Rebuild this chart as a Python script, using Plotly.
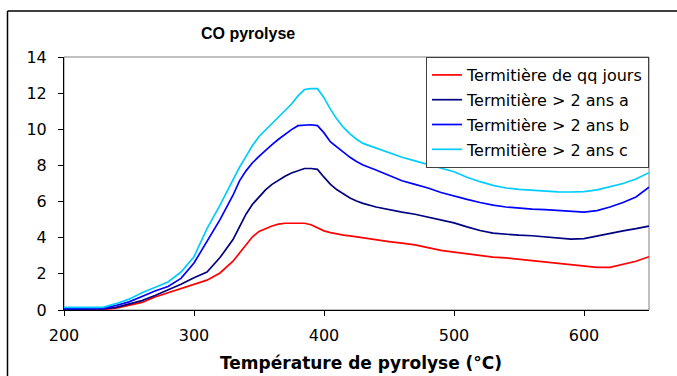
import plotly.graph_objects as go

temperature = [200, 210, 220, 230, 240, 250, 260, 270, 280, 290, 300, 310, 320, 330,
               335, 340, 345, 350, 355, 360, 365, 370, 375, 380, 385, 390, 395, 400,
               405, 410, 415, 420, 425,
               430, 440, 450, 460, 470, 480, 490, 500, 510, 520, 530, 540, 550, 560,
               570, 580, 590, 600, 610, 620, 630, 640, 650]

qq_jours = [0.02, 0.02, 0.02, 0.03, 0.1, 0.27, 0.42, 0.72, 0.95, 1.2, 1.42, 1.65, 2.05, 2.7,
            3.15, 3.6, 4.05, 4.35, 4.52, 4.65, 4.75, 4.8, 4.8, 4.8, 4.8, 4.72, 4.55, 4.38,
            4.28, 4.2, 4.14, 4.1, 4.04,
            3.98, 3.88, 3.78, 3.7, 3.6, 3.45, 3.3, 3.2, 3.1, 3.0, 2.93, 2.88, 2.8, 2.75,
            2.68, 2.58, 2.48, 2.4, 2.36, 2.36, 2.55, 2.7, 2.95]

ans_a = [0.05, 0.05, 0.05, 0.06, 0.15, 0.32, 0.52, 0.8, 1.1, 1.42, 1.78, 2.1, 2.9, 3.9,
         4.6, 5.3, 5.85, 6.25, 6.65, 6.95, 7.2, 7.4, 7.58, 7.72, 7.83, 7.83, 7.78, 7.35,
         6.95, 6.65, 6.4, 6.2, 6.03,
         5.9, 5.7, 5.55, 5.42, 5.3, 5.15, 5.0, 4.82, 4.6, 4.4, 4.25, 4.18, 4.14, 4.11,
         4.05, 3.98, 3.92, 3.95, 4.1, 4.25, 4.38, 4.5, 4.64]

ans_b = [0.08, 0.08, 0.08, 0.09, 0.25, 0.45, 0.75, 1.05, 1.3, 1.75, 2.6, 3.8, 5.0, 6.35,
         7.15, 7.7, 8.15, 8.5, 8.85, 9.15, 9.45, 9.72, 9.98, 10.2, 10.24, 10.25, 10.2, 9.8,
         9.3, 9.0, 8.7, 8.45, 8.22,
         8.02, 7.75, 7.45, 7.15, 6.95, 6.75, 6.5, 6.3, 6.12, 5.95, 5.8, 5.7, 5.62, 5.58,
         5.55, 5.5, 5.47, 5.42, 5.5, 5.7, 5.95, 6.25, 6.8]

ans_c = [0.15, 0.15, 0.15, 0.15, 0.35, 0.6, 0.95, 1.25, 1.55, 2.1, 2.95, 4.5, 5.8, 7.2,
         7.9, 8.5, 9.1, 9.6, 9.95, 10.3, 10.65, 11.0, 11.4, 11.85, 12.2, 12.25, 12.25, 11.75,
         11.1, 10.55, 10.1, 9.75, 9.45,
         9.22, 8.95, 8.7, 8.45, 8.25, 8.05, 7.85, 7.65, 7.35, 7.1, 6.9, 6.75, 6.68, 6.63,
         6.57, 6.54, 6.53, 6.55, 6.65, 6.82, 7.0, 7.25, 7.6]

series_names = ["Termitière de qq jours", "Termitière > 2 ans a",
                "Termitière > 2 ans b", "Termitière > 2 ans c"]
series_values = [qq_jours, ans_a, ans_b, ans_c]
series_colors = ["#FF0000", "#000080", "#0000FF", "#00CCFF"]

x_ticks = [200, 300, 400, 500, 600]
y_ticks = [0, 2, 4, 6, 8, 10, 12, 14]

fig = go.Figure()
for i, (name, vals, col) in enumerate(zip(series_names, series_values, series_colors)):
    fig.add_trace(go.Scatter(x=temperature, y=vals, mode="lines", name=name,
                             legendgroup=f"g{i}",
                             line=dict(color=col, width=1.7)))

W, H = 677, 376
L, T = 64, 57
R = W - 649
B = H - 310
pw, ph = W - L - R, H - T - B

def px_to_paper(x, y):
    return (x - L) / pw, (H - B - y) / ph

bx0, by0 = px_to_paper(7.5, 11)
bx1, by1 = px_to_paper(720, 420)

tx, ty = px_to_paper(248, 33)
ax_x, ax_y = px_to_paper(361, 363)

fig.update_layout(
    width=W, height=H,
    margin=dict(l=L, r=R, t=T, b=B),
    paper_bgcolor="white", plot_bgcolor="white",
    font=dict(family="DejaVu Sans", size=15, color="black"),
    showlegend=True,
    legend=dict(x=1, y=1, xanchor="right", yanchor="top",
                bgcolor="white", bordercolor="#404040", borderwidth=1,
                font=dict(family="DejaVu Sans", size=16, color="black"),
                tracegroupgap=1, traceorder="grouped"),
    shapes=[
        dict(type="line", xref="paper", yref="paper", x0=bx0, y0=by0, x1=bx0, y1=by1,
             line=dict(color="black", width=1.5), layer="below"),
        dict(type="line", xref="paper", yref="paper", x0=bx0, y0=by0, x1=bx1, y1=by0,
             line=dict(color="black", width=1.5), layer="below"),
        dict(type="rect", xref="paper", yref="paper", x0=0, y0=0, x1=1, y1=1,
             line=dict(color="#808080", width=1), layer="below"),
    ],
    annotations=[
        dict(text="<b>CO pyrolyse</b>", xref="paper", yref="paper", x=tx, y=ty,
             xanchor="center", yanchor="middle", showarrow=False,
             font=dict(family="Liberation Sans", size=16, color="black")),
        dict(text="<b>Température de pyrolyse (°C)</b>", xref="paper", yref="paper",
             x=ax_x, y=ax_y, xanchor="center", yanchor="middle", showarrow=False,
             font=dict(family="DejaVu Sans", size=17, color="black")),
    ],
)

fig.update_xaxes(range=[200, 650], tickvals=x_ticks, ticks="outside", ticklen=5,
                 tickcolor="black", showline=True, linecolor="black", linewidth=1,
                 showgrid=False, zeroline=False, ticklabelstandoff=6,
                 tickfont=dict(family="DejaVu Sans", size=16, color="black"))
fig.update_yaxes(range=[0, 14], tickvals=y_ticks, ticks="outside", ticklen=5,
                 tickcolor="black", showline=True, linecolor="black", linewidth=1,
                 showgrid=False, zeroline=False, ticklabelstandoff=8,
                 tickfont=dict(family="DejaVu Sans", size=16, color="black"))

fig.write_html("out.html",
               config={"displayModeBar": False},
               post_script="document.body.style.margin='0';document.body.style.overflow='hidden';")
